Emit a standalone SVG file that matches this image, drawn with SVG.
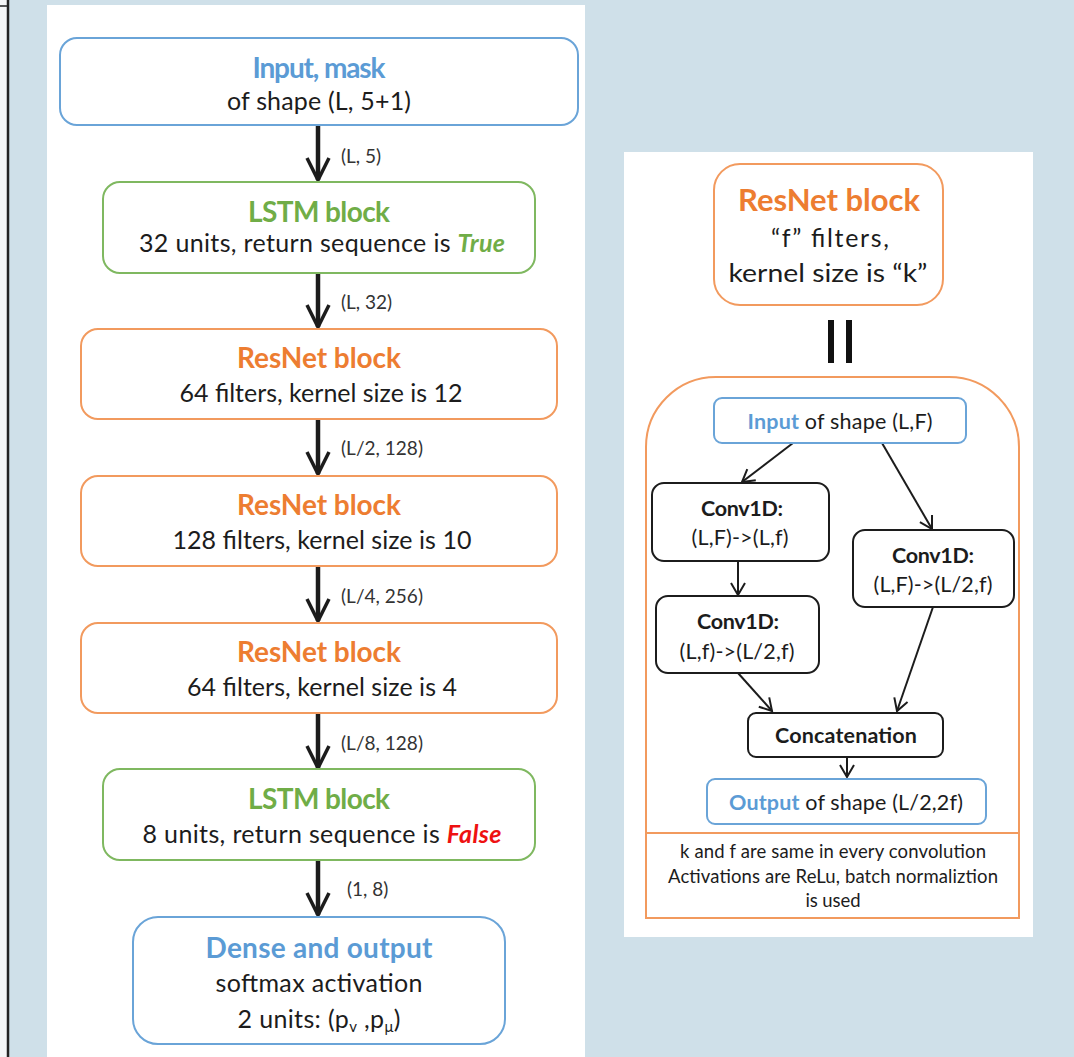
<svg xmlns="http://www.w3.org/2000/svg" width="1074" height="1057" viewBox="0 0 1074 1057">
<defs>
<style>
text{font-family:Lato,"Open Sans","Liberation Sans",sans-serif;text-anchor:middle;fill:#1c1c1c}
.t{font-weight:bold;font-size:28px}
.s{font-size:25px}
.lbl{font-size:19px;text-anchor:start;fill:#333}
.blue{fill:#5b9bd5}
.green{fill:#70ad47}
.orange{fill:#ed7d31}
.bb{fill:#fff;stroke:#6aa4d8;stroke-width:2}
.gb{fill:#fff;stroke:#7fb860;stroke-width:2}
.ob{fill:#fff;stroke:#f29a5e;stroke-width:2}
.kb{fill:#fff;stroke:#1c1c1c;stroke-width:2}
.ln{fill:none;stroke:#1c1c1c}
.big{stroke-width:4.5}
.thin{stroke-width:2}
.st{font-size:21.5px}
.stb{font-size:21.5px;font-weight:bold}
.note{font-size:18.5px}
</style>
<marker id="ah" markerUnits="userSpaceOnUse" viewBox="-30 -16 34 32" markerWidth="34" markerHeight="32" refX="0" refY="0" orient="auto">
<path d="M-22,-11 L0,0 L-22,11" fill="none" stroke="#1c1c1c" stroke-width="3.5" stroke-linejoin="miter"/>
</marker>
<marker id="as" markerUnits="userSpaceOnUse" viewBox="-16 -10 20 20" markerWidth="20" markerHeight="20" refX="0" refY="0" orient="auto">
<path d="M-12,-7 L0,0 L-12,7" fill="none" stroke="#1c1c1c" stroke-width="2"/>
</marker>
</defs>

<rect x="0" y="0" width="1074" height="1057" fill="#cfe0e9"/>
<rect x="0" y="0" width="7" height="1057" fill="#f4f6f7"/>
<line x1="8" y1="0" x2="8" y2="1057" stroke="#222" stroke-width="2.5"/>
<line x1="0" y1="6" x2="8" y2="6" stroke="#222" stroke-width="1.5"/>

<rect x="47" y="5" width="538" height="1052" fill="#fff"/>
<rect x="624" y="152" width="409" height="785" fill="#fff"/>

<g id="connectors">
<path class="ln big" d="M318,125 V180" marker-end="url(#ah)"/>
<path class="ln big" d="M318,273 V327" marker-end="url(#ah)"/>
<path class="ln big" d="M318,419 V474" marker-end="url(#ah)"/>
<path class="ln big" d="M318,566 V621" marker-end="url(#ah)"/>
<path class="ln big" d="M318,713 V768" marker-end="url(#ah)"/>
<path class="ln big" d="M318,860 V915" marker-end="url(#ah)"/>
<text class="lbl" x="341" y="163">(L, 5)</text>
<text class="lbl" x="341" y="309">(L, 32)</text>
<text class="lbl" x="341" y="455" textLength="82">(L/2, 128)</text>
<text class="lbl" x="341" y="603" textLength="82">(L/4, 256)</text>
<text class="lbl" x="341" y="750" textLength="82">(L/8, 128)</text>
<text class="lbl" x="347" y="896">(1, 8)</text>

<path class="ln thin" d="M793,443 L742,482" marker-end="url(#as)"/>
<path class="ln thin" d="M882,443 L932,529" marker-end="url(#as)"/>
<path class="ln thin" d="M738,561 V595" marker-end="url(#as)"/>
<path class="ln thin" d="M738,673 L772,711" marker-end="url(#as)"/>
<path class="ln thin" d="M933,607 L897,711" marker-end="url(#as)"/>
<path class="ln thin" d="M847,757 V777" marker-end="url(#as)"/>
</g>

<g id="input">
<rect class="bb" x="60" y="38" width="518" height="87" rx="17"/>
<text class="t blue" x="319" y="78" textLength="133">Input, mask</text>
<text class="s" x="319" y="110" textLength="184">of shape (L, 5+1)</text>
</g>
<g id="lstm1">
<rect class="gb" x="103" y="182" width="432" height="91" rx="17"/>
<text class="t green" x="319" y="222" textLength="142">LSTM block</text>
<text class="s" x="322" y="252" textLength="366">32 units, return sequence is <tspan class="green" font-weight="bold" font-style="italic">True</tspan></text>
</g>
<g id="resnet1">
<rect class="ob" x="81" y="329" width="476" height="90" rx="17"/>
<text class="t orange" x="319" y="368" textLength="164">ResNet block</text>
<text class="s" x="321" y="402" textLength="283">64 filters, kernel size is 12</text>
</g>
<g id="resnet2">
<rect class="ob" x="81" y="476" width="476" height="90" rx="17"/>
<text class="t orange" x="319" y="515" textLength="164">ResNet block</text>
<text class="s" x="322" y="549" textLength="299">128 filters, kernel size is 10</text>
</g>
<g id="resnet3">
<rect class="ob" x="81" y="623" width="476" height="90" rx="17"/>
<text class="t orange" x="319" y="662" textLength="164">ResNet block</text>
<text class="s" x="322" y="696" textLength="270">64 filters, kernel size is 4</text>
</g>
<g id="lstm2">
<rect class="gb" x="103" y="769" width="432" height="91" rx="17"/>
<text class="t green" x="319" y="809" textLength="142">LSTM block</text>
<text class="s" x="322" y="843" textLength="359">8 units, return sequence is <tspan fill="#ee1111" font-weight="bold" font-style="italic">False</tspan></text>
</g>
<g id="dense">
<rect class="bb" x="133" y="917" width="372" height="127" rx="25"/>
<text class="t blue" x="319" y="958" textLength="227">Dense and output</text>
<text class="s" x="319" y="992" textLength="207">softmax activation</text>
<text class="s" x="319" y="1028" textLength="163">2 units: (p<tspan font-size="15" dy="4">v</tspan><tspan dy="-4"> ,p</tspan><tspan font-size="15" dy="4">μ</tspan><tspan dy="-4">)</tspan></text>
</g>

<g id="resnet-def">
<rect class="ob" x="714" y="164" width="229" height="141" rx="26"/>
<text class="orange" x="829" y="211" font-weight="bold" font-size="31px" textLength="182">ResNet block</text>
<text class="s" x="830" y="247" textLength="118">“f” filters,</text>
<text class="s" x="828" y="282" font-size="27px" textLength="199" lengthAdjust="spacingAndGlyphs">kernel size is “k”</text>
</g>
<g id="equals">
<line x1="831" y1="320" x2="831" y2="363" stroke="#111" stroke-width="6"/>
<line x1="849" y1="320" x2="849" y2="363" stroke="#111" stroke-width="6"/>
</g>
<g id="resnet-container">
<path d="M646,833 V447 A70,70 0 0 1 716,377 H949 A70,70 0 0 1 1019,447 V833" fill="none" stroke="#f29a5e" stroke-width="2"/>
</g>
<g id="res-input">
<rect class="bb" x="714" y="398" width="252" height="45" rx="8"/>
<text class="st" x="840" y="429" textLength="185"><tspan class="blue" font-weight="bold">Input</tspan> of shape (L,F)</text>
</g>
<g id="conv1">
<rect class="kb" x="652" y="483" width="177" height="78" rx="12"/>
<text class="stb" x="742" y="516" textLength="82">Conv1D:</text>
<text class="st" x="740" y="545" textLength="97">(L,F)-&gt;(L,f)</text>
</g>
<g id="conv2">
<rect class="kb" x="656" y="596" width="163" height="77" rx="12"/>
<text class="stb" x="738" y="629" textLength="82">Conv1D:</text>
<text class="st" x="737" y="659" textLength="115">(L,f)-&gt;(L/2,f)</text>
</g>
<g id="conv3">
<rect class="kb" x="853" y="530" width="161" height="77" rx="12"/>
<text class="stb" x="933" y="563" textLength="82">Conv1D:</text>
<text class="st" x="933" y="592" textLength="119">(L,F)-&gt;(L/2,f)</text>
</g>
<g id="concat">
<rect class="kb" x="748" y="713" width="195" height="44" rx="8"/>
<text class="stb" x="846" y="743" textLength="142">Concatenation</text>
</g>
<g id="res-output">
<rect class="bb" x="707" y="779" width="279" height="45" rx="8"/>
<text class="st" x="846" y="810" textLength="234"><tspan class="blue" font-weight="bold">Output</tspan> of shape (L/2,2f)</text>
</g>
<g id="note">
<rect x="646" y="833" width="373" height="85" fill="#fff" stroke="#f29a5e" stroke-width="2"/>
<text class="note" x="833" y="858" textLength="306">k and f are same in every convolution</text>
<text class="note" x="833" y="883" textLength="330">Activations are ReLu, batch normaliztion</text>
<text class="note" x="833" y="907" textLength="55">is used</text>
</g>
</svg>
